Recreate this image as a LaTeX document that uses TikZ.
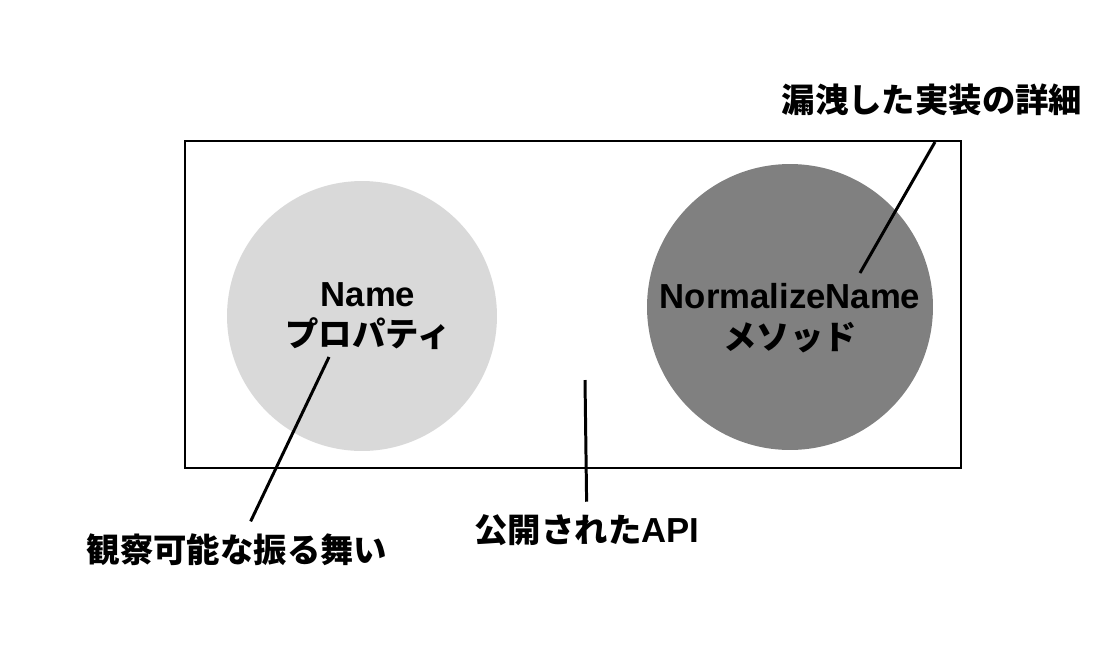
\documentclass[tikz,border=0pt]{standalone}
\usepackage{fontspec}
\setmainfont{Liberation Sans}[Scale=1.04]
\newfontfamily\cjk{Noto Sans CJK JP}
\usetikzlibrary{positioning}
\definecolor{propgray}{HTML}{D9D9D9}
\definecolor{methgray}{HTML}{808080}
\tikzset{
  ball/.style={circle, inner sep=0pt},
  caption/.style={font=\fontsize{19}{23}\selectfont\bfseries, align=center, inner sep=7pt},
  leader/.style={line width=1.7pt},
}
\begin{document}
\begin{tikzpicture}[x=0.02cm, y=-0.02cm]
    \useasboundingbox (0,0) rectangle (1120,650);
    \node[draw, line width=1.2pt, minimum width=15.52cm, minimum height=6.54cm] (api) at (573,304.5) {};
    \node[ball, fill=propgray, minimum size=5.4cm] (prop) at (362,316) {};
    \node[ball, fill=methgray, minimum size=5.72cm] (meth) at (790,307) {};
    \node[caption] (propname) at (368,316) {Name\\{\cjk プロパティ}};
    \node[caption] (methname) at (790,318) {NormalizeName\\{\cjk メソッド}};
    \node[caption] (obs) at (237,550) {\cjk 観察可能な振る舞い};
    \node[caption] (pub) at (587,530) {{\cjk 公開された}API};
    \node[caption] (leak) at (932,100) {\cjk 漏洩した実装の詳細};
    \coordinate (tipL) at (329,357);
    \coordinate (tipM) at (585,380);
    \coordinate (tipR) at (860,273);
    \coordinate (edgeR) at (935,142);
    \draw[leader] (tipL) -- (obs);
    \draw[leader] (tipM) -- (pub);
    \draw[leader] (tipR) -- (edgeR);
\end{tikzpicture}
\end{document}
